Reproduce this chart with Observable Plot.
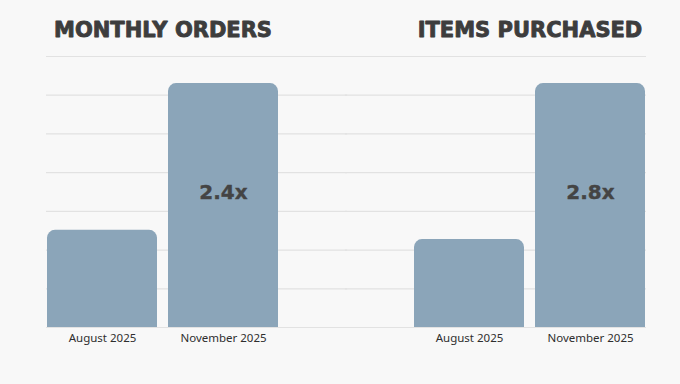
<!DOCTYPE html>
<html><head><meta charset="utf-8">
<script src="https://cdn.jsdelivr.net/npm/d3@7"></script>
<script src="https://cdn.jsdelivr.net/npm/@observablehq/plot@0.6"></script>
<style>
html,body{margin:0;padding:0;background:#f8f8f8;}
</style></head><body><div id="chart"></div>
<script>
const panels = ["MONTHLY ORDERS", "ITEMS PURCHASED"];
const months = ["August 2025", "November 2025"];
const ordersValues = [2.51, 6.3];
const itemsValues = [2.27, 6.3];
const multipliers = ["2.4x", "2.8x"];
const gridTicks = [0, 1, 2, 3, 4, 5, 6, 7];

const seriesByPanel = [ordersValues, itemsValues];
const data = [];
panels.forEach((p, i) => months.forEach((m, j) => data.push({panel: p, month: m, value: seriesByPanel[i][j]})));
const labels = panels.map((p, i) => ({panel: p, month: months[1], value: seriesByPanel[i][1], text: multipliers[i]}));
const gridFor = (p) => gridTicks.map(t => ({panel: p, tick: t}));

const W = 680, ML = 46, MR = 33, FXPAD = 0.365;
const fxStep = (W - ML - MR) / (panels.length - FXPAD);
const halfGap = fxStep * FXPAD / 2 + 1;

const chart = Plot.plot({
  width: W, height: 384,
  marginLeft: ML, marginRight: MR, marginTop: 56, marginBottom: 57,
  style: {background: "#f8f8f8", fontFamily: "Noto Sans", fontSize: "11px", color: "#333"},
  fx: {domain: panels, paddingInner: FXPAD, paddingOuter: 0, label: null},
  x: {domain: months, paddingInner: 0.09, paddingOuter: 0, label: null},
  y: {domain: [0, 7], axis: null},
  marks: [
    Plot.ruleY(gridFor(panels[0]), {fx: "panel", y: "tick", stroke: "#e2e2e2", strokeWidth: 1.2, insetRight: -halfGap}),
    Plot.ruleY(gridFor(panels[1]), {fx: "panel", y: "tick", stroke: "#e2e2e2", strokeWidth: 1.2, insetLeft: -halfGap}),
    Plot.barY(data, {fx: "panel", x: "month", y: "value", fill: "#8ba5b9", ry1: 8}),
    Plot.text(labels, {fx: "panel", x: "month", y: d => d.value * 0.555, text: "text", fontSize: 20, fontWeight: "bold", fontFamily: "DejaVu Sans", fill: "#444", stroke: "#444", strokeWidth: 0.4}),
    Plot.axisX({tickSize: 0, tickPadding: 6, fontSize: 11.5, fill: "#2e2e2e"}),
    Plot.axisFx({anchor: "top", tickSize: 0, tickPadding: 20, fontSize: 21, fontWeight: "bold", fontFamily: "DejaVu Sans", fill: "#3d3d3d", textStroke: "#3d3d3d", textStrokeWidth: 0.9, label: null})
  ]
});
document.getElementById("chart").appendChild(chart);
</script></body></html>
